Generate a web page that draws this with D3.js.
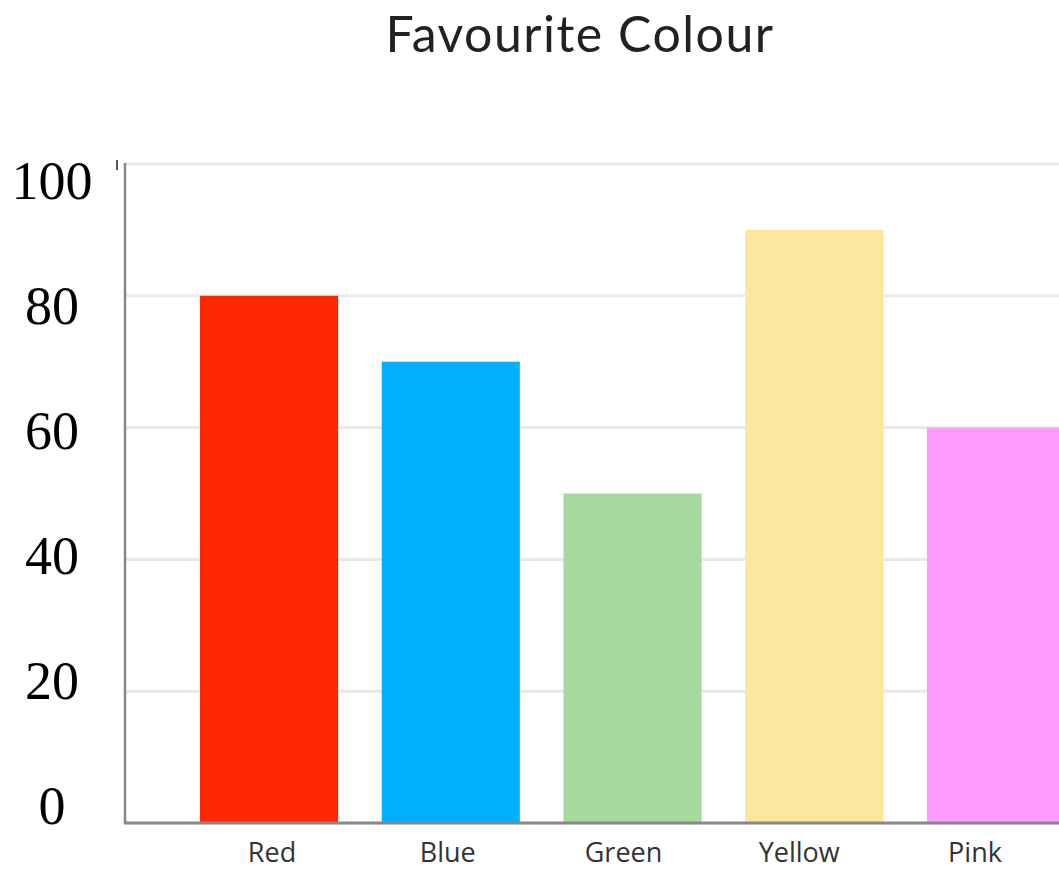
<!DOCTYPE html>
<html>
<head>
<meta charset="utf-8">
<script src="https://cdn.jsdelivr.net/npm/d3@7"></script>
<style>
html,body{margin:0;padding:0;background:#fff;overflow:hidden;}
svg{display:block;}
</style>
</head>
<body>
<svg id="chart" width="1059" height="870"></svg>
<script>
const title = "Favourite Colour";
const categories = ["Red", "Blue", "Green", "Yellow", "Pink"];
const values = [80, 70, 50, 90, 60];
const barColors = ["#FF2600", "#00B0FF", "#A6DA9C", "#FDE69E", "#FF9CFF"];
const yTicks = [0, 20, 40, 60, 80, 100];

const W = 1059, H = 870;
const svg = d3.select("#chart");

const y = d3.scaleLinear().domain([0, 100]).range([823, 164]);
// tick labels in the picture sit on their own, evenly spaced rows
const yLabel = d3.scaleLinear().domain([0, 100]).range([805, 180]);
const x = d3.scaleBand().domain(categories).range([200, 1065]).paddingInner(0.24).paddingOuter(0);
const xLabel = d3.scalePoint().domain(categories).range([272, 975]);

// title
svg.append("text")
  .attr("x", 580).attr("y", 52)
  .attr("text-anchor", "middle")
  .attr("font-family", "Lato, 'Open Sans', sans-serif")
  .attr("font-size", 50)
  .attr("letter-spacing", 1.5)
  .attr("fill", "#222")
  .text(title);

// gridlines
svg.append("g").selectAll("line").data(yTicks.filter(d => d > 0)).join("line")
  .attr("x1", 125).attr("x2", W)
  .attr("y1", d => y(d)).attr("y2", d => y(d))
  .attr("stroke", "#e9e9e9").attr("stroke-width", 3);

// bars
svg.append("g").selectAll("rect").data(categories).join("rect")
  .attr("x", d => x(d))
  .attr("y", (d, i) => y(values[i]))
  .attr("width", x.bandwidth())
  .attr("height", (d, i) => y(0) - y(values[i]))
  .attr("fill", (d, i) => barColors[i]);

// y axis line
svg.append("line")
  .attr("x1", 125).attr("x2", 125).attr("y1", 163).attr("y2", 824)
  .attr("stroke", "#888").attr("stroke-width", 2.5);
// small mark near the top
svg.append("line")
  .attr("x1", 117).attr("x2", 117).attr("y1", 160).attr("y2", 170)
  .attr("stroke", "#555").attr("stroke-width", 2);

// baseline
svg.append("line")
  .attr("x1", 124).attr("x2", W).attr("y1", y(0)).attr("y2", y(0))
  .attr("stroke", "#888").attr("stroke-width", 3);

// y tick labels
svg.append("g").selectAll("text").data(yTicks).join("text")
  .attr("x", 52)
  .attr("y", d => yLabel(d))
  .attr("dy", "0.35em")
  .attr("text-anchor", "middle")
  .attr("font-family", "'Liberation Serif', 'DejaVu Serif', serif")
  .attr("font-size", 54)
  .attr("fill", "#000")
  .text(d => d);

// x labels
svg.append("g").selectAll("text").data(categories).join("text")
  .attr("x", d => xLabel(d))
  .attr("y", 862)
  .attr("text-anchor", "middle")
  .attr("font-family", "'Open Sans', 'Noto Sans', sans-serif")
  .attr("font-size", 27)
  .attr("fill", "#333")
  .text(d => d);
</script>
</body>
</html>
